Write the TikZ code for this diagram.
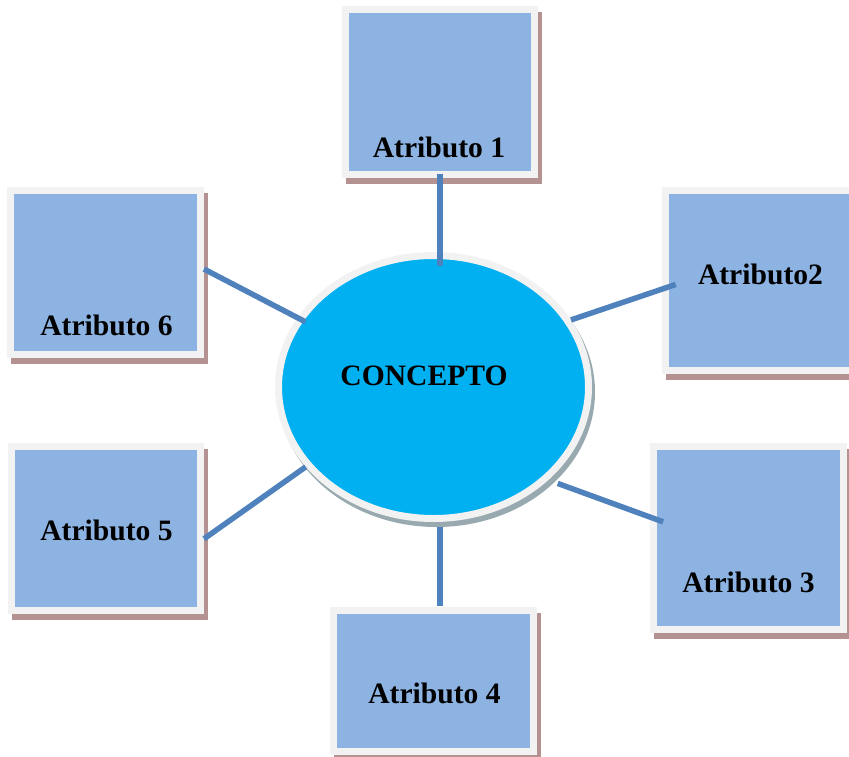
\documentclass[tikz,border=0pt]{standalone}
\usepackage{fontspec}
\setmainfont{Liberation Serif}
\usetikzlibrary{shapes.geometric,shadows}
\definecolor{attrblue}{HTML}{8DB3E2}
\definecolor{attrframe}{HTML}{F2F2F2}
\definecolor{rosy}{RGB}{180,146,146}
\definecolor{conceptcyan}{HTML}{00B0F0}
\definecolor{linkblue}{HTML}{4F81BD}
\definecolor{ovalshade}{RGB}{152,170,176}

\begin{document}
\begin{tikzpicture}[x=1pt,y=-1pt,
	attr/.style={rectangle,draw=attrframe,line width=7pt,fill=attrblue,inner sep=0pt,
		drop shadow={shadow xshift=3.5pt,shadow yshift=-6pt,fill=rosy,draw=rosy,line width=7pt,opacity=1}},
	concept/.style={ellipse,draw=attrframe,line width=7pt,fill=conceptcyan,inner sep=0pt,
		minimum width=310pt,minimum height=263pt,
		drop shadow={shadow xshift=3pt,shadow yshift=-5pt,fill=ovalshade,draw=ovalshade,line width=7pt,opacity=1}},
	lbl/.style={anchor=base,inner sep=0pt,font=\bfseries\fontsize{29.6}{32}\selectfont},
	link/.style={draw=linkblue,line width=5.5pt}]
		\useasboundingbox (0,0) rectangle (849,756);
		\clip (0,0) rectangle (849,756);
		\node[attr,minimum width=189pt,minimum height=165pt] (b1) at (440,92) {};
		\node[attr,minimum width=190pt,minimum height=180pt] (b2) at (760.5,280.5) {};
		\node[attr,minimum width=190pt,minimum height=183pt] (b3) at (748.5,538) {};
		\node[attr,minimum width=200pt,minimum height=141pt] (b4) at (433.5,681) {};
		\node[attr,minimum width=189pt,minimum height=164pt] (b5) at (106,528.5) {};
		\node[attr,minimum width=190pt,minimum height=164pt] (b6) at (105.5,272.5) {};
		\node[concept] (concepto) at (433.5,387) {};
		\draw[link,shorten <=-4.5pt,shorten >=-13.5pt] (b1.south) -- (b1.south |- concepto.north);
		\draw[link,shorten >=-14.5pt] (concepto.26) -- (b2.185);
		\draw[link,shorten <=10pt,shorten >=-14pt] (concepto.-39) -- (b3.168);
		\draw[link,shorten <=4.5pt,shorten >=1.5pt] (concepto.south -| b1.south) -- (b4.north -| b1.south);
		\draw[link] (concepto.212) -- (b5.-6);
		\draw[link,shorten >=-9pt] (b6.2) -- (concepto.153);
		\node[lbl] (t1) at (439,157) {Atributo 1};
		\node[lbl] (t2) at (760.5,284) {Atributo2};
		\node[lbl] (t3) at (748.5,592) {Atributo 3};
		\node[lbl] (t4) at (434.5,703) {Atributo 4};
		\node[lbl] (t5) at (106.5,540) {Atributo 5};
		\node[lbl] (t6) at (106.5,335) {Atributo 6};
		\node[lbl] (tc) at (424,385) {CONCEPTO};
	\end{tikzpicture}
\end{document}
